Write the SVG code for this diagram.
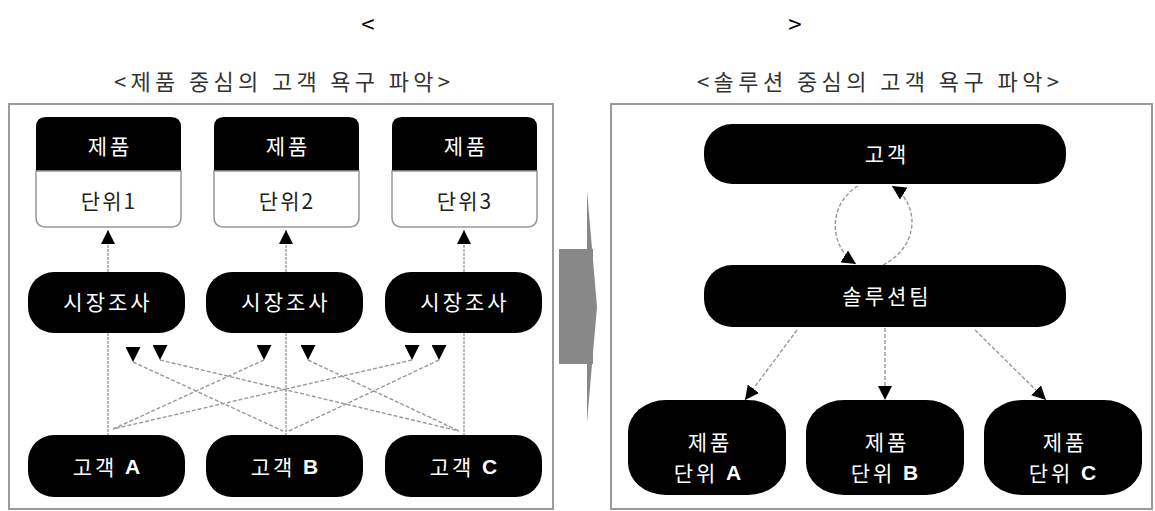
<svg xmlns="http://www.w3.org/2000/svg" width="1155" height="511" viewBox="0 0 1155 511">
<style>
text{font-family:"Noto Sans CJK KR","Liberation Sans",sans-serif;dominant-baseline:central;text-anchor:middle}
.t{font-size:21px;letter-spacing:3px;fill:#fff}
.d{font-size:21px;letter-spacing:2px;fill:#222}
.b{fill:#000}
.frame{fill:#fff;stroke:#9a9a9a;stroke-width:2}
.sub{font-size:22px;fill:#333}
.lat{font-family:"Liberation Sans",Arial,sans-serif;font-weight:bold}
.v{stroke:#777;stroke-width:1;fill:none;stroke-dasharray:3 1}
.g{stroke:#999;stroke-width:1.4;fill:none;stroke-dasharray:4 2}
</style>
<defs>
<marker id="ah" viewBox="0 0 10 10" refX="10" refY="5" markerWidth="14" markerHeight="14" markerUnits="userSpaceOnUse" orient="auto"><path d="M0,0 L10,5 L0,10 Z" fill="#000"/></marker>
<marker id="dn" viewBox="0 0 10 10" refX="10" refY="5" markerWidth="15" markerHeight="15" markerUnits="userSpaceOnUse" orient="90"><path d="M0,0 L10,5 L0,10 Z" fill="#000"/></marker>
</defs>
<rect width="1155" height="511" fill="#fff"/>
<g id="title">
<text x="368" y="22" style="font-size:24px;fill:#000">&lt;</text>
<text x="795" y="22" style="font-size:24px;fill:#000">&gt;</text>
<text class="sub" x="282" y="80" textLength="336" lengthAdjust="spacing">&lt;제품 중심의 고객 욕구 파악&gt;</text>
<text class="sub" x="878" y="80" textLength="362" lengthAdjust="spacing">&lt;솔루션 중심의 고객 욕구 파악&gt;</text>
</g>
<rect id="left-frame" class="frame" x="9" y="104" width="544" height="405"/>
<rect id="right-frame" class="frame" x="611" y="104" width="541" height="405"/>
<g id="transition-arrow" fill="#888">
<rect x="559" y="249" width="34" height="115"/>
<polygon points="587,190 597,307 587,422"/>
</g>
<g id="connectors">
<line class="v" x1="108" y1="272" x2="108" y2="230" marker-end="url(#ah)"/>
<line class="v" x1="286" y1="272" x2="286" y2="230" marker-end="url(#ah)"/>
<line class="v" x1="464" y1="272" x2="464" y2="230" marker-end="url(#ah)"/>
<line class="v" x1="108" y1="333" x2="108" y2="435"/>
<line class="v" x1="286" y1="333" x2="286" y2="435"/>
<line class="v" x1="464" y1="333" x2="464" y2="435"/>
<line class="g" x1="133" y1="362" x2="283" y2="431" marker-start="url(#dn)"/>
<line class="g" x1="160" y1="360" x2="459" y2="431" marker-start="url(#dn)"/>
<line class="g" x1="264" y1="360" x2="113" y2="429" marker-start="url(#dn)"/>
<line class="g" x1="308" y1="360" x2="459" y2="431" marker-start="url(#dn)"/>
<line class="g" x1="412" y1="360" x2="113" y2="429" marker-start="url(#dn)"/>
<line class="g" x1="439" y1="360" x2="289" y2="431" marker-start="url(#dn)"/>
<path class="g" d="M858,186 C828,204 828,246 856,264" marker-end="url(#ah)"/>
<path class="g" d="M883,265 C920,246 920,204 892,186" marker-end="url(#ah)"/>
<line class="g" x1="797" y1="330" x2="745" y2="400" marker-end="url(#ah)"/>
<line class="g" x1="885" y1="328" x2="885" y2="400" marker-end="url(#ah)"/>
<line class="g" x1="975" y1="330" x2="1046" y2="400" marker-end="url(#ah)"/>
</g>
<g id="product1">
<path class="b" d="M36,171 V127 Q36,117 46,117 H171 Q181,117 181,127 V171 Z"/>
<text class="t" x="110" y="145">제품</text>
</g>
<g id="unit1">
<path d="M36,171 H181 V217 Q181,227 171,227 H46 Q36,227 36,217 Z" fill="#fff" stroke="#999" stroke-width="1.5"/>
<text class="d" x="109" y="200">단위1</text>
</g>
<g id="product2">
<path class="b" d="M214,171 V127 Q214,117 224,117 H349 Q359,117 359,127 V171 Z"/>
<text class="t" x="288" y="145">제품</text>
</g>
<g id="unit2">
<path d="M214,171 H359 V217 Q359,227 349,227 H224 Q214,227 214,217 Z" fill="#fff" stroke="#999" stroke-width="1.5"/>
<text class="d" x="287" y="200">단위2</text>
</g>
<g id="product3">
<path class="b" d="M392,171 V127 Q392,117 402,117 H527 Q537,117 537,127 V171 Z"/>
<text class="t" x="466" y="145">제품</text>
</g>
<g id="unit3">
<path d="M392,171 H537 V217 Q537,227 527,227 H402 Q392,227 392,217 Z" fill="#fff" stroke="#999" stroke-width="1.5"/>
<text class="d" x="465" y="200">단위3</text>
</g>
<g id="survey1"><rect class="b" x="28" y="272" width="157" height="61" rx="26"/><text class="t" x="108" y="301">시장조사</text></g>
<g id="survey2"><rect class="b" x="206" y="272" width="157" height="61" rx="26"/><text class="t" x="286" y="301">시장조사</text></g>
<g id="survey3"><rect class="b" x="385" y="272" width="157" height="61" rx="26"/><text class="t" x="465" y="301">시장조사</text></g>
<g id="customerA"><rect class="b" x="28" y="435" width="157" height="62" rx="26"/><text class="t" x="108" y="466">고객 <tspan class="lat">A</tspan></text></g>
<g id="customerB"><rect class="b" x="206" y="435" width="157" height="62" rx="26"/><text class="t" x="286" y="466">고객 <tspan class="lat">B</tspan></text></g>
<g id="customerC"><rect class="b" x="385" y="435" width="157" height="62" rx="26"/><text class="t" x="465" y="466">고객 <tspan class="lat">C</tspan></text></g>
<g id="customer"><rect class="b" x="704" y="124" width="362" height="60" rx="28"/><text class="t" x="887" y="153">고객</text></g>
<g id="solution-team"><rect class="b" x="704" y="265" width="362" height="62" rx="28"/><text class="t" x="887" y="295">솔루션팀</text></g>
<g id="unitA"><rect class="b" x="628" y="400" width="158" height="95" rx="38" ry="32"/><text class="t" x="710" y="441">제품</text><text class="t" x="709" y="472">단위 <tspan class="lat">A</tspan></text></g>
<g id="unitB"><rect class="b" x="806" y="400" width="158" height="95" rx="38" ry="32"/><text class="t" x="887" y="441">제품</text><text class="t" x="886" y="472">단위 <tspan class="lat">B</tspan></text></g>
<g id="unitC"><rect class="b" x="984" y="400" width="158" height="95" rx="38" ry="32"/><text class="t" x="1065" y="441">제품</text><text class="t" x="1064" y="472">단위 <tspan class="lat">C</tspan></text></g>
</svg>
